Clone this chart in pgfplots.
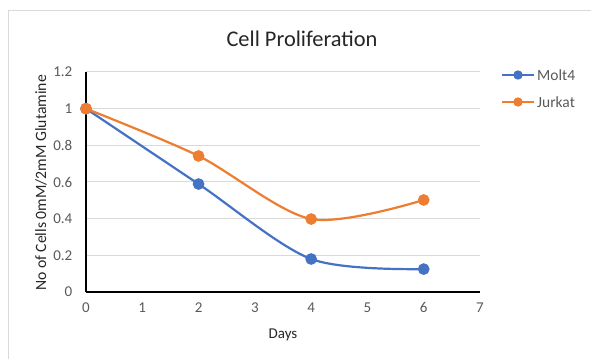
\documentclass[border=0pt]{standalone}
\usepackage{pgfplots}
\pgfplotsset{compat=1.18}
\usepackage{fontspec}
\setmainfont{Carlito}
\definecolor{mblue}{HTML}{4472C4}
\definecolor{morange}{HTML}{ED7D31}
\definecolor{gridc}{HTML}{D9D9D9}
\definecolor{tickc}{HTML}{595959}
\begin{document}
\begin{tikzpicture}[x=1pt,y=1pt]
\useasboundingbox (0,0) rectangle (591,359);
\draw[gridc,line width=1pt] (8,0) -- (8,348) -- (591,348);
\node[font=\fontsize{22.4}{26}\selectfont,text=black!85] at (302,320) {Cell Proliferation};
\begin{axis}[
  at={(86pt,67pt)}, anchor=origin,
  scale only axis, width=394pt, height=220pt,
  xmin=0, xmax=7, ymin=0, ymax=1.2,
  xtick={0,1,...,7}, ytick={0,0.2,...,1.2},
  yticklabels={0,0.2,0.4,0.6,0.8,1,1.2},
  axis x line=bottom, axis y line=left,
  axis line style={black, line width=1.3pt, -},
  x axis line style={line width=2pt},
  tick style={draw=none},
  ymajorgrids, grid style={gridc, line width=1pt},
  ticklabel style={font=\fontsize{15}{17}\selectfont, text=tickc},
  /pgf/number format/assume math mode=true,
  xticklabel style={yshift=-5pt},
  yticklabel style={xshift=-8pt},
  clip=false,
]
\addplot[smooth, tension=0.5, mblue, line width=2.2pt, mark=*, mark size=4.7pt, mark options={fill=mblue, draw=mblue}]
  coordinates {(0,1) (2,0.589) (4,0.180) (6,0.125)};
\addplot[smooth, tension=0.5, morange, line width=2.2pt, mark=*, mark size=4.7pt, mark options={fill=morange, draw=morange}]
  coordinates {(0,1) (2,0.742) (4,0.398) (6,0.502)};
\end{axis}
\node[font=\fontsize{15}{18}\selectfont, text=black!85] at (283,24) {Days};
\node[rotate=90, font=\fontsize{15.7}{18}\selectfont, text=black!85] at (41,176) {No of Cells 0mM/2mM Glutamine};
\draw[mblue, line width=2.2pt] (502,284) -- (534,284);
\fill[mblue] (518,284) circle (4.7pt);
\node[anchor=west, font=\fontsize{15.5}{18}\selectfont, text=tickc, inner sep=0pt] at (537,284) {Molt4};
\draw[morange, line width=2.2pt] (502,257) -- (534,257);
\fill[morange] (518,257) circle (4.7pt);
\node[anchor=west, font=\fontsize{15.5}{18}\selectfont, text=tickc, inner sep=0pt] at (537,257) {Jurkat};
\end{tikzpicture}
\end{document}
